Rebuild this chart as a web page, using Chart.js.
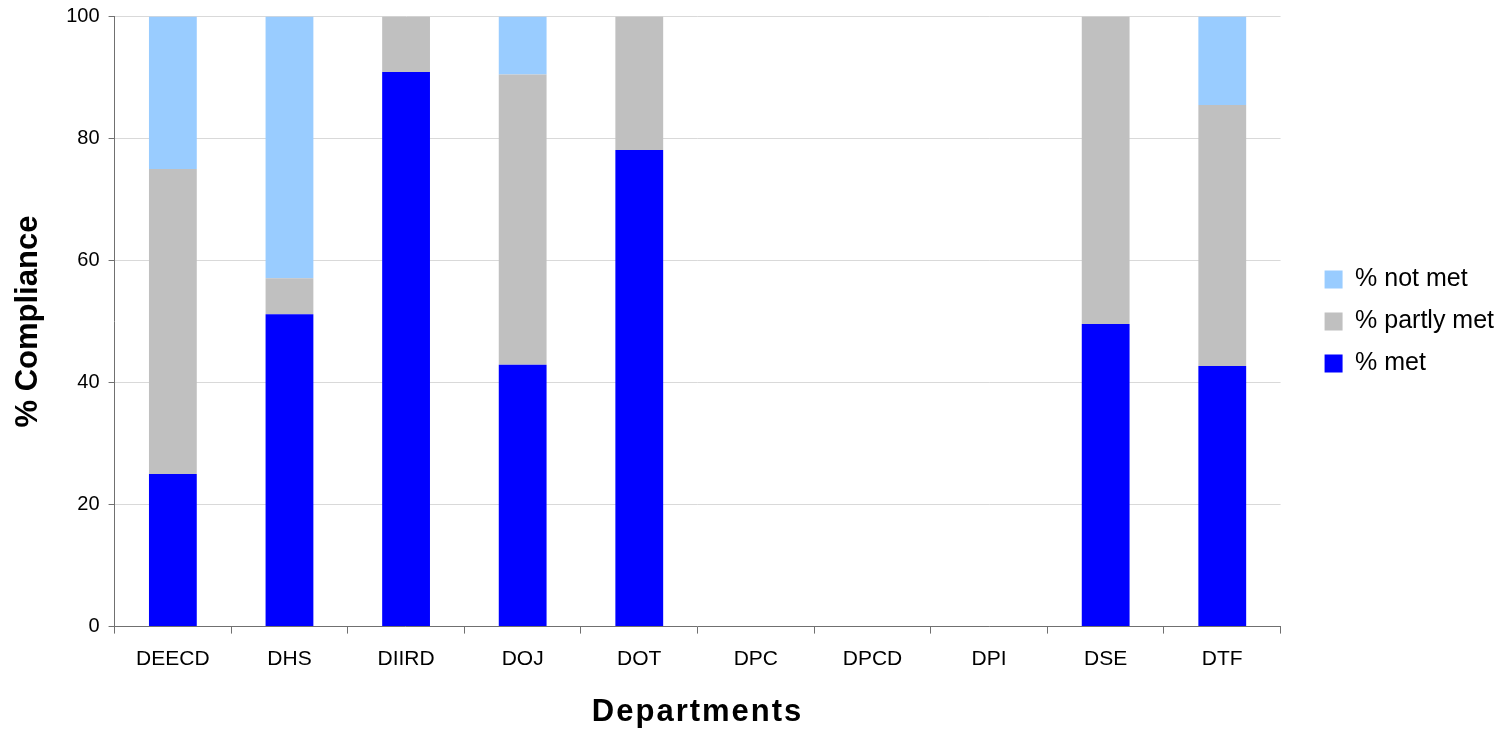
<!DOCTYPE html>
<html>
<head>
<meta charset="utf-8">
<style>
  html, body { margin: 0; padding: 0; background: #fff; }
  #wrap { width: 1504px; height: 731px; }
</style>
<script src="https://cdn.jsdelivr.net/npm/chart.js@4/dist/chart.umd.min.js"></script>
</head>
<body>
<div id="wrap"><canvas id="c" width="1504" height="731"></canvas></div>
<script>
// ── data ──────────────────────────────────────────────────
const DEPARTMENTS = ["DEECD", "DHS", "DIIRD", "DOJ", "DOT", "DPC", "DPCD", "DPI", "DSE", "DTF"];
const MET         = [25, 51.2, 90.9, 42.9, 78.1, 0, 0, 0, 49.6, 42.7];
const PARTLY_MET  = [50,  5.9,  9.1, 47.6, 21.9, 0, 0, 0, 50.4, 42.8];
const NOT_MET     = [25, 42.9,  0,    9.5,  0,   0, 0, 0,  0,   14.5];
const Y_TICKS     = [0, 20, 40, 60, 80, 100];

const FONT = "'Liberation Sans', Arial, sans-serif";
Chart.defaults.font.family = FONT;
Chart.defaults.color = "#000";

const bar = { barPercentage: 1, categoryPercentage: 0.41, borderWidth: 0 };

// the x title in the original is a little letter-spaced
const spacedTitle = {
  id: "spacedTitle",
  afterLayout(chart) {
    const s = chart.scales.x;
    if (s._spaced) return;
    const orig = s.drawTitle.bind(s);
    s.drawTitle = function (area) {
      const ctx = this.ctx;
      const prev = ctx.letterSpacing;
      ctx.letterSpacing = "2px";
      orig(area);
      ctx.letterSpacing = prev;
    };
    s._spaced = true;
  },
};

new Chart(document.getElementById("c"), {
  type: "bar",
  data: {
    labels: DEPARTMENTS,
    datasets: [
      { label: "% met",        data: MET,        backgroundColor: "#0000ff", ...bar },
      { label: "% partly met", data: PARTLY_MET, backgroundColor: "#c0c0c0", ...bar },
      { label: "% not met",    data: NOT_MET,    backgroundColor: "#99ccff", ...bar },
    ],
  },
  plugins: [spacedTitle],
  options: {
    responsive: false,
    devicePixelRatio: 1,
    animation: false,
    layout: { padding: { left: 4, right: 0, top: 0, bottom: 0 } },
    plugins: {
      tooltip: { enabled: false },
      legend: {
        position: "right",
        fullSize: false,
        reverse: true,
        labels: {
          font: { size: 25 },
          boxWidth: 18,
          boxHeight: 18,
          padding: 17,
          color: "#000",
        },
      },
    },
    scales: {
      x: {
        stacked: true,
        grid: { offset: true, drawOnChartArea: false, drawTicks: true, tickLength: 7, color: "#707070" },
        border: { color: "#707070", width: 1 },
        ticks: { font: { size: 21 }, padding: 13, color: "#000" },
        title: { display: true, text: "Departments", font: { size: 31, weight: "bold" }, padding: { top: 9, bottom: 0 } },
      },
      y: {
        stacked: true,
        min: 0,
        max: 100,
        afterBuildTicks: (s) => { s.ticks = Y_TICKS.map((v) => ({ value: v })); },
        grid: { color: "#d9d9d9", tickLength: 6, tickColor: "#707070" },
        border: { color: "#707070", width: 1 },
        ticks: { font: { size: 20, lineHeight: 0.75 }, padding: 9, color: "#000" },
        title: { display: true, text: "% Compliance", font: { size: 31, weight: "bold" }, padding: { top: 6, bottom: 10 } },
      },
      // empty gap between the plot and the legend
      spacer: {
        type: "linear",
        position: "right",
        display: true,
        grid: { display: false },
        border: { display: false },
        ticks: { display: false },
        afterFit: (s) => { s.width = 27; },
      },
    },
  },
});
</script>
</body>
</html>
